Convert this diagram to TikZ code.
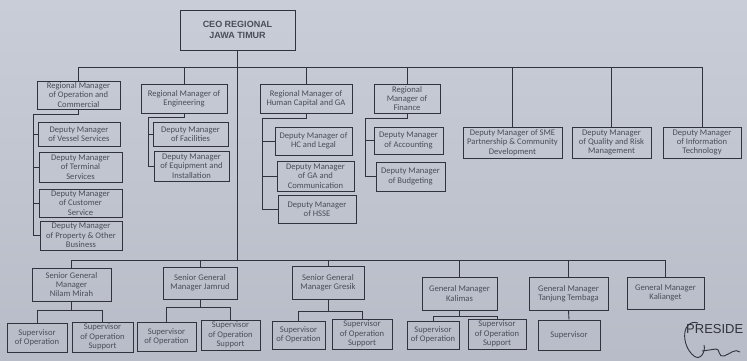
\documentclass[tikz,border=0pt]{standalone}
\usepackage{fontspec}
\setmainfont{Carlito}
\newfontfamily\arialfont{Liberation Sans}
\definecolor{bgtop}{HTML}{C9CDD7}
\definecolor{bgbot}{HTML}{B7BCC8}
\definecolor{ink}{HTML}{30333B}
\definecolor{txt}{HTML}{4A4E58}
\tikzset{
  box/.style={draw=ink, line width=1pt, inner sep=0pt, align=center, text=txt,
    font=\fontsize{8.6}{9.3}\selectfont},
  ceobox/.style={box, font=\arialfont\bfseries\fontsize{9}{10.5}\selectfont},
  conn/.style={draw=ink, line width=0.9pt},
}
\newcommand\bx[6]{\node[box, minimum width={(#4-#2)*1pt}, minimum height={(#5-#3)*1pt}]
  (#1) at ({(#2+#4)/2},{(#3+#5)/2}) {#6};}
\begin{document}
\begin{tikzpicture}[x=1pt,y=-1pt]
\useasboundingbox (0,0) rectangle (747,360);
\fill[top color=bgtop, bottom color=bgbot] (0,0) rectangle (747,360);

% CEO
\node[ceobox, minimum width=115pt, minimum height=40pt] (ceo) at (237.5,30) {CEO REGIONAL\\JAWA TIMUR};

% Regional managers
\bx{rm1}{37}{81}{120}{109}{Regional Manager\\of Operation and\\Commercial}
\bx{rm2}{141}{84}{227}{113}{Regional Manager of\\Engineering}
\bx{rm3}{260}{84}{352}{113}{Regional Manager of\\Human Capital and GA}
\bx{rm4}{374}{84}{440}{113}{Regional\\Manager of\\Finance}

% Deputies
\bx{d11}{38}{122}{120}{146}{Deputy Manager\\of Vessel Services}
\bx{d12}{39}{152}{122}{182}{Deputy Manager\\of Terminal\\Services}
\bx{d13}{39}{189}{122}{217}{Deputy Manager\\of Customer\\Service}
\bx{d14}{40}{221}{122}{250}{Deputy Manager\\of Property \& Other\\Business}
\bx{d21}{153}{122}{228}{146}{Deputy Manager\\of Facilities}
\bx{d22}{154}{151}{229}{181}{Deputy Manager\\of Equipment and\\Installation}
\bx{d31}{275}{127}{352}{155}{Deputy Manager of\\HC and Legal}
\bx{d32}{277}{161}{354}{191}{Deputy Manager\\of GA and\\Communication}
\bx{d33}{278}{195}{356}{223}{Deputy Manager\\of HSSE}
\bx{d41}{374}{127}{443}{154}{Deputy Manager\\of Accounting}
\bx{d42}{376}{162}{445}{191}{Deputy Manager\\of Budgeting}
\bx{sme}{463}{127}{562}{158}{Deputy Manager of SME\\Partnership \& Community\\Development}
\bx{qrm}{572}{127}{651}{158}{Deputy Manager\\of Quality and Risk\\Management}
\bx{it}{663}{127}{741}{158}{Deputy Manager\\of Information\\Technology}

% General managers
\bx{g1}{32}{268}{111}{301}{Senior General\\Manager\\Nilam Mirah}
\bx{g2}{163}{267}{237}{299}{Senior General\\Manager Jamrud}
\bx{g3}{292}{266}{364}{299}{Senior General\\Manager Gresik}
\bx{g4}{422}{277}{497}{310}{General Manager\\Kalimas}
\bx{g5}{529}{277}{608}{310}{General Manager\\Tanjung Tembaga}
\bx{g6}{627}{277}{704}{309}{General Manager\\Kalianget}

% Supervisors
\bx{s11}{7}{323}{67}{352}{Supervisor\\of Operation}
\bx{s12}{72}{322}{133}{352}{Supervisor\\of Operation\\Support}
\bx{s21}{137}{322}{196}{351}{Supervisor\\of Operation}
\bx{s22}{201}{320}{260}{350}{Supervisor\\of Operation\\Support}
\bx{s31}{272}{321}{325}{349}{Supervisor\\of Operation}
\bx{s32}{332}{319}{392}{349}{Supervisor\\of Operation\\Support}
\bx{s41}{407}{321}{459}{349}{Supervisor\\of Operation}
\bx{s42}{468}{319}{526}{349}{Supervisor\\of Operation\\Support}
\bx{s51}{538}{320}{600}{350}{Supervisor}

% bus coordinates
\coordinate (top) at (0,67);
\coordinate (bot) at (0,260);

% CEO trunk
\draw[conn] (ceo.south) -- (ceo.south |- bot);
% top bus
\draw[conn] (rm1.north) -- (rm1.north |- top) -- (it.north |- top) -- (it.north);
\foreach \n in {rm2,rm3,rm4,sme,qrm} \draw[conn] (\n.north) -- (\n.north |- top);
% bottom bus
\draw[conn] (g1.north) -- (g1.north |- bot) -- (g6.north |- bot) -- (g6.north);
\foreach \n in {g2,g3,g4,g5} \draw[conn] (\n.north) -- (\n.north |- bot);

% deputy trees
\coordinate (v1) at (33,114);
\draw[conn] (rm1.south) -- (rm1.south |- v1) -- (v1) -- (v1 |- d14.west) -- (d14.west);
\foreach \n in {d11,d12,d13} \draw[conn] (v1 |- \n.west) -- (\n.west);
\coordinate (v2) at (148,117);
\draw[conn] (rm2.south) -- (rm2.south |- v2) -- (v2) -- (v2 |- d22.west) -- (d22.west);
\draw[conn] (v2 |- d21.west) -- (d21.west);
\coordinate (v3) at (262,118);
\draw[conn] (rm3.south) -- (rm3.south |- v3) -- (v3) -- (v3 |- d33.west) -- (d33.west);
\foreach \n in {d31,d32} \draw[conn] (v3 |- \n.west) -- (\n.west);
\coordinate (v4) at (365,118);
\draw[conn] (rm4.south) -- (rm4.south |- v4) -- (v4) -- (v4 |- d42.west) -- (d42.west);
\draw[conn] (v4 |- d41.west) -- (d41.west);

% supervisor trees
\coordinate (h1) at (0,310);
\draw[conn] (g1.south) -- (g1.south |- h1);
\draw[conn] (s11.north) -- (s11.north |- h1) -- (s12.north |- h1) -- (s12.north);
\coordinate (h2) at (0,307);
\draw[conn] (g2.south) -- (g2.south |- h2);
\draw[conn] (s21.north) -- (s21.north |- h2) -- (s22.north |- h2) -- (s22.north);
\coordinate (h3) at (0,311);
\draw[conn] (g3.south) -- (g3.south |- h3);
\draw[conn] (s31.north) -- (s31.north |- h3) -- (s32.north |- h3) -- (s32.north);
\coordinate (h4) at (0,316);
\draw[conn] (g4.south) -- (g4.south |- h4);
\draw[conn] (s41.north) -- (s41.north |- h4) -- (s42.north |- h4) -- (s42.north);
\draw[conn] (g5.south) -- (s51.north);

% signature area
\begin{scope}
\clip (0,0) rectangle (747,360);
\node[anchor=base west, inner sep=0pt, text=ink, font=\arialfont\fontsize{13}{13}\selectfont] (pres) at (686,333) {PRESIDE};
\draw[ink, line width=0.9pt] (698,323) .. controls (682,318) and (680,345) .. (694,356)
  .. controls (700,361) and (706,352) .. (704,345);
\draw[ink, line width=0.9pt] (702,351) -- (716,349) .. controls (720,348) and (718,358) .. (724,356)
  .. controls (730,354) and (735,348) .. (740,352);
\end{scope}
\end{tikzpicture}
\end{document}
